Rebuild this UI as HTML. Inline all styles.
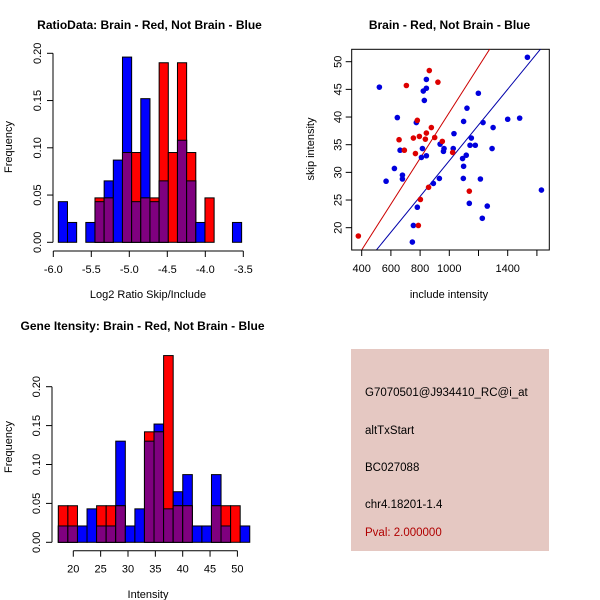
<!DOCTYPE html>
<html><head><meta charset="utf-8"><style>
body{margin:0;background:#fff}
svg{display:block;font-family:"Liberation Sans",sans-serif}
</style></head><body>
<svg id="c" width="600" height="600" xmlns="http://www.w3.org/2000/svg">
<rect x="351" y="349" width="198" height="202" fill="#e5c8c2"/>
<g font-size="11.5" fill="#000">
<text x="365" y="396">G7070501@J934410_RC@i_at</text>
<text x="365" y="434">altTxStart</text>
<text x="365" y="471">BC027088</text>
<text x="365" y="508">chr4.18201-1.4</text>
<text x="365" y="536" fill="#b00000">Pval: 2.000000</text>
</g>
</svg>
<script>
// ---- Ratio histogram data
const ratioStart = -5.934;
const ratioBinWidth = 0.1206;
const ratioBlue = [0.043,0.021,0,0.021,0.043,0.065,0.087,0.196,0.043,0.152,0.043,0.065,0,0.108,0.065,0.021,0,0,0,0.021];
const ratioRed  = [0,0,0,0,0.047,0.047,0,0.095,0.095,0.047,0.047,0.19,0.095,0.19,0.095,0,0.047,0,0,0];
const ratioXTicks = [-6.0,-5.5,-5.0,-4.5,-4.0,-3.5];
const ratioYTicks = [0,0.05,0.10,0.15,0.20];
// ---- Intensity histogram data
const intStart = 17.26;
const intBinWidth = 1.75;
const intBlue = [0.021,0.021,0.021,0.043,0.021,0.021,0.13,0.021,0.043,0.13,0.152,0.043,0.065,0.087,0.021,0.021,0.087,0.021,0,0.021];
const intRed  = [0.047,0.047,0,0,0.047,0.047,0.047,0,0,0.142,0.142,0.24,0.047,0.047,0,0,0.047,0.047,0.047,0];
const intXTicks = [20,25,30,35,40,45,50];
const intYTicks = [0,0.05,0.10,0.15,0.20];
// ---- Scatter data
const blueX = [521,644,567,624,663,679,679,774,843,843,822,829,816,809,843,937,964,960,932,891,1032,1027,1091,1098,1096,1116,1098,1121,1151,1142,1178,1199,1231,1213,1226,1137,1260,1300,1293,1400,1482,1535,1631,781,754,747];
const blueY = [45.4,39.9,28.4,30.7,34.0,29.5,28.8,39.0,46.8,45.2,44.7,43.0,34.3,32.7,33.0,35.1,34.3,33.8,28.9,28.0,37.0,34.3,32.5,31.1,28.9,33.1,39.2,41.6,36.2,34.9,34.9,44.3,39.0,28.8,21.7,24.4,23.9,38.1,34.3,39.6,39.8,50.8,26.8,23.7,20.4,17.4];
const redX = [377,656,692,706,754,768,781,795,836,843,877,900,952,863,922,1023,802,858,788,1137];
const redY = [18.5,35.9,34.0,45.7,36.2,33.4,39.4,36.5,36.0,37.1,38.1,36.3,35.6,48.4,46.3,33.6,25.1,27.3,20.4,26.6];
const redFit = [-0.58, 0.0414];
const blueFit = [-0.2, 0.0323];
const scXTicks = [400,600,800,1000,1200,1400,1600];
const scXLabels = ["400","600","800","1000","","1400",""];
const scYTicks = [20,25,30,35,40,45,50];

const svg = document.getElementById('c');
const NS = 'http://www.w3.org/2000/svg';
function mk(tag, attrs, parent){const e=document.createElementNS(NS,tag);for(const k in attrs)e.setAttribute(k,attrs[k]);(parent||svg).appendChild(e);return e;}
function txt(s,x,y,attrs){const e=mk('text',Object.assign({x:x,y:y},attrs||{}));e.textContent=s;return e;}

function hist(o){
  const g=mk('g',{});
  
  
  const sx=v=>o.x0+(v-o.v0)*o.kx, sy=v=>o.y0-v*o.ky;
  for(let i=0;i<o.blue.length;i++){
    const a=o.start+i*o.bw, b=a+o.bw, x=sx(a), w=sx(b)-x;
    const bl=o.blue[i], rd=o.red[i], mn=Math.min(bl,rd);
    if(bl>0){const r=mk('rect',{x:x,y:sy(bl),width:w,height:o.y0-sy(bl),fill:'#0000ff',stroke:'#000','stroke-width':1},g);
      
      }
    if(rd>0){const r=mk('rect',{x:x,y:sy(rd),width:w,height:o.y0-sy(rd),fill:'#ff0000',stroke:'#000','stroke-width':1},g);
      
      }
    if(mn>0){const r=mk('rect',{x:x,y:sy(mn),width:w,height:o.y0-sy(mn),fill:'#7f007f',stroke:'#000','stroke-width':1},g);
      
      }
  }
  const yt=o.yticks;
  mk('line',{x1:o.ax,x2:o.ax,y1:sy(yt[0]),y2:sy(yt[yt.length-1]),stroke:'#000'},g);
  yt.forEach(v=>{mk('line',{x1:o.ax-6,x2:o.ax,y1:sy(v),y2:sy(v),stroke:'#000'},g);
    const t=txt(v.toFixed(2),o.ax-12,sy(v),{'font-size':11,'text-anchor':'middle',transform:`rotate(-90 ${o.ax-12} ${sy(v)})`});
    
    });
  const xt=o.xticks;
  mk('line',{x1:sx(xt[0]),x2:sx(xt[xt.length-1]),y1:o.ay,y2:o.ay,stroke:'#000'},g);
  xt.forEach(v=>{mk('line',{x1:sx(v),x2:sx(v),y1:o.ay,y2:o.ay+6,stroke:'#000'},g);
    const t=txt(o.fmt(v),sx(v),o.ay+22,{'font-size':11,'text-anchor':'middle'});
    
    });
}
hist({name:'ratio-histogram',blue:ratioBlue,red:ratioRed,start:ratioStart,bw:ratioBinWidth,v0:-6,x0:53.3,kx:76,y0:242.3,ky:945,ax:53,ay:251,xticks:ratioXTicks,yticks:ratioYTicks,fmt:v=>v.toFixed(1)});
hist({name:'intensity-histogram',blue:intBlue,red:intRed,start:intStart,bw:intBinWidth,v0:20,x0:73.3,kx:5.47,y0:542.3,ky:778,ax:52,ay:550.7,xticks:intXTicks,yticks:intYTicks,fmt:v=>String(v)});

const sg=mk('g',{});


const px=v=>361.7+(v-400)*0.146, py=v=>61.7+(50-v)*5.533;
const L=351.7,R=549.3,T=49.3,B=250;
mk('clipPath',{id:'clp'},sg); mk('rect',{x:L,y:T,width:R-L,height:B-T},sg.lastChild);
mk('rect',{x:L,y:T,width:R-L,height:B-T,fill:'none',stroke:'#000'},sg);
[[redFit,'#cc0000','red-fit-line'],[blueFit,'#0000aa','blue-fit-line']].forEach(([f,c,n])=>{
  const x1=200,x2=1800;
  const l=mk('line',{x1:px(x1),y1:py(f[0]+f[1]*x1),x2:px(x2),y2:py(f[0]+f[1]*x2),stroke:c,'clip-path':'url(#clp)'},sg);
  
  
});
blueX.forEach((x,i)=>{const c=mk('circle',{cx:px(x),cy:py(blueY[i]),r:2.8,fill:'#0000dd'},sg);
  
  });
redX.forEach((x,i)=>{const c=mk('circle',{cx:px(x),cy:py(redY[i]),r:2.8,fill:'#dd0000'},sg);
  
  });
scXTicks.forEach((v,i)=>{mk('line',{x1:px(v),x2:px(v),y1:B,y2:B+6,stroke:'#000'},sg);
  if(scXLabels[i]){const t=txt(scXLabels[i],px(v),B+22,{'font-size':11,'text-anchor':'middle'});
  
  }});
mk('line',{x1:px(400),x2:px(1600),y1:B,y2:B,stroke:'#000'},sg);
scYTicks.forEach(v=>{mk('line',{x1:L-6,x2:L,y1:py(v),y2:py(v),stroke:'#000'},sg);
  const t=txt(String(v),L-10,py(v),{'font-size':11,'text-anchor':'middle',transform:`rotate(-90 ${L-10} ${py(v)})`});
  
  });

const labels=[
 ['RatioData: Brain - Red, Not Brain - Blue',149.5,29,{'font-weight':'bold','font-size':12},'ratio-title'],
 ['Brain - Red, Not Brain - Blue',449.5,29,{'font-weight':'bold','font-size':12},'scatter-title'],
 ['Gene Itensity: Brain - Red, Not Brain - Blue',142.5,330,{'font-weight':'bold','font-size':12},'intensity-title'],
 ['Log2 Ratio Skip/Include',148,298,{'font-size':11},'ratio-x-title'],
 ['include intensity',449,298,{'font-size':11},'scatter-x-title'],
 ['Intensity',148,598,{'font-size':11},'intensity-x-title'],
];
labels.forEach(([s,x,y,a,n])=>{const t=txt(s,x,y,Object.assign({'text-anchor':'middle'},a));
  
  });
[['Frequency',12,147,'ratio-y-title'],['Frequency',12,447,'intensity-y-title'],['skip intensity',314,149,'scatter-y-title']].forEach(([s,x,y,n])=>{
  const t=txt(s,x,y,{'font-size':11,'text-anchor':'middle',transform:`rotate(-90 ${x} ${y})`});
  
  });
</script>
</body></html>
